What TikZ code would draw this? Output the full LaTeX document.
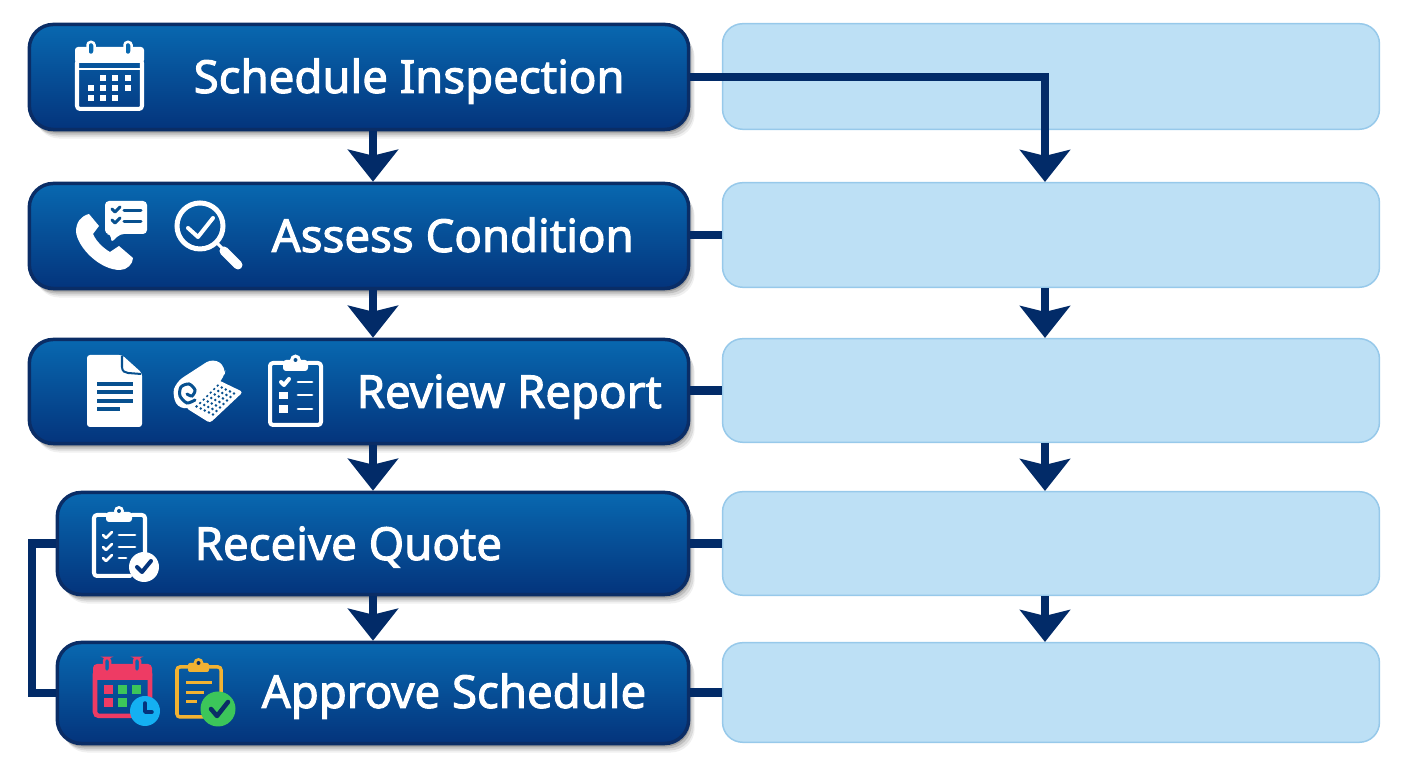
\documentclass[tikz,border=0pt]{standalone}
\usepackage{fontspec}
\usetikzlibrary{arrows.meta, shadows, calc}
\newfontfamily\stepfont[FakeBold=2.2]{Noto Sans}

\definecolor{stepTop}{HTML}{0868B0}
\definecolor{stepBot}{HTML}{04347C}
\definecolor{stepEdge}{HTML}{0A2D66}
\definecolor{stepMid}{HTML}{07508F}
\definecolor{noteFill}{HTML}{BDE0F5}
\definecolor{noteEdge}{HTML}{97C9EA}
\definecolor{flowBlue}{HTML}{022B68}
\definecolor{iconRed}{HTML}{EE3B64}
\definecolor{iconGreen}{HTML}{3CC65A}
\definecolor{iconCyan}{HTML}{14B0F2}
\definecolor{iconGold}{HTML}{F2B232}

\tikzset{
    stepbox/.style={rectangle, rounded corners=0.24cm, inner sep=0pt, draw=stepEdge, line width=0.035cm,
        top color=stepTop, bottom color=stepBot,
        drop shadow={shadow xshift=0.06cm, shadow yshift=-0.09cm, opacity=0.06, fill=black},
        drop shadow={shadow xshift=0.05cm, shadow yshift=-0.07cm, opacity=0.09, fill=black},
        drop shadow={shadow xshift=0.03cm, shadow yshift=-0.05cm, opacity=0.13, fill=black},
        drop shadow={shadow xshift=0.015cm, shadow yshift=-0.03cm, opacity=0.18, fill=black}},
    notebox/.style={rectangle, rounded corners=0.2cm, inner sep=0pt, fill=noteFill, draw=noteEdge, line width=0.015cm},
    steptext/.style={anchor=base west, inner sep=0pt, text=white, font=\stepfont\fontsize{12.95}{16}\selectfont},
    flow/.style={draw=flowBlue, line width=0.085cm},
    flowarrow/.style={flow, -{Stealth[length=0.32cm, width=0.5cm, inset=0.06cm]}},
    iconline/.style={draw=white, line width=0.04cm, line cap=round, line join=round},
    cutline/.style={draw=stepMid, line width=0.03cm, line cap=round, line join=round}
}

\begin{document}
\begin{tikzpicture}[x=0.01cm, y=-0.01cm]
        \useasboundingbox (0,0) rectangle (1408,768);

        % Left column
        \node[stepbox, minimum width=6.59cm, minimum height=1.05cm] (schedule) at (359,77) {};
        \node[stepbox, minimum width=6.59cm, minimum height=1.05cm] (assess) at (359,236) {};
        \node[stepbox, minimum width=6.59cm, minimum height=1.04cm] (review) at (359,391.5) {};
        \node[stepbox, minimum width=6.31cm, minimum height=1.02cm] (quote) at (373,543.5) {};
        \node[stepbox, minimum width=6.31cm, minimum height=1.01cm] (approve) at (373,693) {};

        % Right column
        \node[notebox, minimum width=6.565cm, minimum height=1.055cm] (note1) at (1051,76.5) {};
        \node[notebox, minimum width=6.565cm, minimum height=1.045cm] (note2) at (1051,235) {};
        \node[notebox, minimum width=6.565cm, minimum height=1.035cm] (note3) at (1051,390.5) {};
        \node[notebox, minimum width=6.565cm, minimum height=1.035cm] (note4) at (1051,543.5) {};
        \node[notebox, minimum width=6.565cm, minimum height=0.995cm] (note5) at (1051,692.5) {};

        % Labels
        \node[steptext] (label1) at (193,93) {Schedule Inspection};
        \node[steptext] (label2) at (271,252) {Assess Condition};
        \node[steptext] (label3) at (356,408) {Review Report};
        \node[steptext] (label4) at (194,560) {Receive Quote};
        \node[steptext] (label5) at (261,708) {Approve Schedule};

        % Down arrows, left
        \draw[flowarrow] (quote.north |- schedule.south) -- (quote.north |- assess.north);
        \draw[flowarrow] (quote.north |- assess.south) -- (quote.north |- review.north);
        \draw[flowarrow] (quote.north |- review.south) -- (quote.north);
        \draw[flowarrow] (quote.south) -- (approve.north);

        % Down arrows, right
        \draw[flowarrow] ([xshift=-0.06cm]note2.south) -- ([xshift=-0.06cm]note3.north);
        \draw[flowarrow] ([xshift=-0.06cm]note3.south) -- ([xshift=-0.06cm]note4.north);
        \draw[flowarrow] ([xshift=-0.06cm]note4.south) -- ([xshift=-0.06cm]note5.north);

        % Links across
        \draw[flowarrow] (schedule.east) -| ([xshift=-0.06cm]note2.north);
        \draw[flow] (note2.west -| assess.east) -- (note2.west);
        \draw[flow] (note3.west -| review.east) -- (note3.west);
        \draw[flow] (quote.east) -- (note4.west);
        \draw[flow] (note5.west -| approve.east) -- (note5.west);

        % Loop on the left
        \draw[flow] (quote.west) -- ++(-23.5,0) |- (approve.west);

        % Calendar
        \draw[iconline, rounded corners=0.03cm] (77,60) rectangle (142,109);
        \fill[white, rounded corners=0.03cm] (75,63) -- (75,47) -- (144,47) -- (144,63) -- cycle;
        \draw[white, line width=0.025cm] (77,69) -- (143,69);
        \foreach \x in {91,128}
            \draw[white, fill=stepTop, line width=0.025cm, rounded corners=0.03cm] (\x-3.5,42) rectangle (\x+3.5,55);
        \foreach \x in {103,115,128}
            \fill[white] (\x-3.3,75) rectangle (\x+3.3,81.5);
        \foreach \x in {91,103,115,128}
            \fill[white] (\x-3.3,85) rectangle (\x+3.3,91.5);
        \foreach \x in {91,103,115}
            \fill[white] (\x-3.3,95) rectangle (\x+3.3,101.5);

        % Phone with speech bubble
        \fill[white, rounded corners=0.04cm] (105,201) -- (147,201) -- (147,234) -- (120,234) -- (111,243) -- (111,234) -- (105,234) -- cycle;
        \foreach \y in {211,222} {
            \draw[cutline] (112,\y-2) -- (115,\y+1) -- (120,\y-4);
            \draw[cutline] (124,\y) -- (141,\y);
        }
        \fill[white] (89,214) .. controls (81,216) and (76,222) .. (76,232)
            .. controls (78,248) and (100,270) .. (120,270)
            .. controls (127,270) and (133,264) .. (133,258)
            -- (119,246) -- (110,252)
            .. controls (103,248) and (96,241) .. (93,234)
            -- (99,226) -- cycle;

        % Magnifier
        \draw[white, line width=0.05cm] (200,226) circle (23);
        \draw[white, line width=0.04cm, line cap=round, line join=round] (188,228) -- (198,237) -- (213,218);
        \draw[white, line width=0.03cm] (217,243) -- (224,250);
        \draw[white, line width=0.09cm, line cap=round] (224,251) -- (238,265);

        % Document
        \fill[white, rounded corners=0.03cm] (87,355) -- (122,355) -- (142,373) -- (142,427) -- (87,427) -- cycle;
        \draw[stepMid, line width=0.02cm] (122,356) -- (122,367) .. controls (122,371) and (125,373) .. (128,373) -- (141,374);
        \foreach \y in {384,392,401}
            \draw[stepMid, line width=0.033cm] (97,\y) -- (133,\y);
        \draw[stepMid, line width=0.033cm] (97,409) -- (120,409);

        % Roll with grid
        \fill[white, rounded corners=0.03cm] (216,379) -- (243,392) -- (210,423) -- (186,408) -- cycle;
        \foreach \i in {1,...,5}
            \foreach \j in {1,...,7}
                \fill[stepMid] ({217+\i*4.1-\j*3.5},{380+\i*2+\j*3.5}) circle (1.4);
        \fill[white, rounded corners=0.08cm] (213,358) -- (226,367) -- (224,378) -- (196,406) -- (180,410) -- (172,396) -- (176,382) -- cycle;
        \draw[stepMid, line width=0.03cm, line cap=round] plot[smooth] coordinates {(195,400) (187,403) (180,396) (181,387) (189,384) (195,390) (192,396) (187,394)};

        % Clipboard with list
        \draw[iconline, rounded corners=0.03cm] (283,363) -- (270,363) -- (270,425) -- (321,425) -- (321,363) -- (308,363);
        \fill[white, rounded corners=0.03cm] (283,371) -- (283,360) -- (308,360) -- (308,371) -- cycle;
        \fill[white] (295.5,360) circle (5.5);
        \fill[stepMid] (295.5,360) circle (2);
        \draw[iconline] (281,382) -- (284,385) -- (289,379);
        \fill[white] (279,392) rectangle (288,399);
        \fill[white] (279,405) rectangle (288,413);
        \foreach \y in {382,395,409}
            \draw[iconline, line width=0.027cm] (298,\y) -- (312,\y);

        % Clipboard with badge
        \draw[iconline, rounded corners=0.03cm] (106,515) -- (94,515) -- (94,576) -- (130,576);
        \draw[iconline, rounded corners=0.03cm] (132,515) -- (145,515) -- (145,552);
        \fill[white, rounded corners=0.03cm] (106,522) -- (106,512) -- (132,512) -- (132,522) -- cycle;
        \fill[white] (119,511) circle (5);
        \fill[stepMid] (119,511) circle (2);
        \foreach \y in {535,547,558}
            \draw[iconline, line width=0.027cm] (103,\y) -- (106,\y+3) -- (112,\y-3);
        \foreach \y in {535,547}
            \draw[iconline, line width=0.027cm] (119,\y) -- (135,\y);
        \draw[iconline, line width=0.027cm] (119,558) -- (126,558);
        \fill[white] (144,567) circle (15);
        \draw[stepBot, line width=0.04cm, line cap=round, line join=round] (137,567) -- (142,572) -- (151,561);

        % Coloured calendar
        \draw[iconRed, line width=0.045cm, rounded corners=0.04cm] (95,670) rectangle (150,716);
        \fill[iconRed, rounded corners=0.04cm] (93,680) -- (93,664) -- (152,664) -- (152,680) -- cycle;
        \foreach \x in {107,137}
            \draw[iconRed, fill=stepTop, line width=0.025cm, rounded corners=0.03cm] (\x-3,658) rectangle (\x+3,672);
        \foreach \x/\y/\c in {108/690/iconRed, 122/690/iconGreen, 136/690/iconGreen, 108/703/iconRed, 122/703/iconGreen}
            \fill[\c] (\x-4.5,\y-4.5) rectangle (\x+4.5,\y+4.5);
        \fill[iconCyan] (145,711) circle (15);
        \draw[stepBot, line width=0.035cm, line cap=round, line join=round] (145,703) -- (145,712) -- (152,712);

        % Coloured clipboard
        \draw[iconGold, line width=0.035cm, rounded corners=0.03cm] (188,667) -- (177,667) -- (177,717) -- (205,717);
        \draw[iconGold, line width=0.035cm, rounded corners=0.03cm] (209,667) -- (221,667) -- (221,695);
        \fill[iconGold, rounded corners=0.02cm] (188,672) -- (188,663) -- (209,663) -- (209,672) -- cycle;
        \fill[iconGold] (198.5,663) circle (5);
        \fill[stepEdge] (198.5,663) circle (2);
        \draw[iconGold, line width=0.03cm] (186,683) -- (212,683);
        \draw[iconGold, line width=0.03cm] (186,693) -- (204,693);
        \draw[iconGold, line width=0.03cm] (186,702) -- (197,702);
        \fill[iconGreen] (218,709) circle (17.5);
        \draw[stepEdge, line width=0.045cm, line cap=round, line join=round] (211,709) -- (217,716) -- (228,702);
    \end{tikzpicture}
\end{document}
